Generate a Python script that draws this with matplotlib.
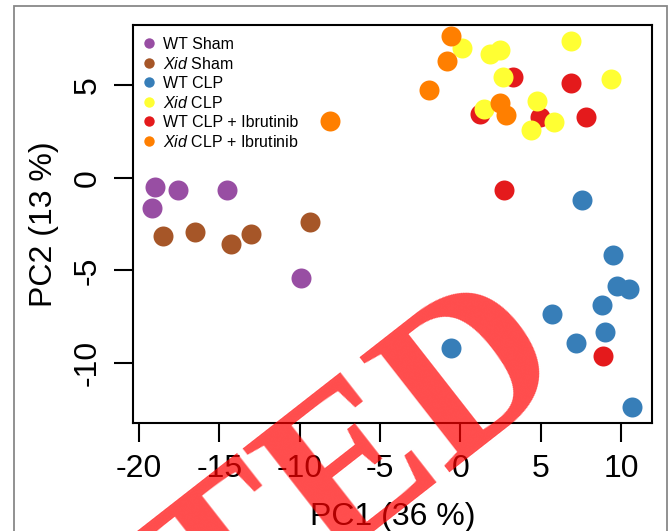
import matplotlib
matplotlib.use("Agg")
import matplotlib.pyplot as plt
from matplotlib.lines import Line2D
from matplotlib.patches import Rectangle

plt.rcParams["font.family"] = ["Liberation Sans", "DejaVu Sans"]
plt.rcParams["mathtext.fontset"] = "custom"
plt.rcParams["mathtext.it"] = "Liberation Sans:italic"
plt.rcParams["mathtext.rm"] = "Liberation Sans"
plt.rcParams["axes.unicode_minus"] = False

# PCA scores
wt_sham_x = [-19.0, -17.6, -14.5, -19.2, -9.9]
wt_sham_y = [-0.5, -0.65, -0.65, -1.65, -5.4]

xid_sham_x = [-18.5, -16.5, -14.3, -13.0, -9.35]
xid_sham_y = [-3.15, -2.95, -3.6, -3.05, -2.4]

wt_clp_x = [7.6, 9.5, 9.75, 10.5, 8.8, 5.7, 9.0, 7.2, -0.6, 10.7]
wt_clp_y = [-1.2, -4.2, -5.85, -6.0, -6.85, -7.35, -8.35, -8.9, -9.2, -12.35]

wt_ibr_x = [3.3, 6.9, 1.2, 4.95, 7.8, 2.75, 8.85]
wt_ibr_y = [5.45, 5.1, 3.45, 3.3, 3.25, -0.65, -9.6]

xid_clp_x = [0.1, 1.85, 2.45, 6.9, 2.65, 9.4, 1.45, 4.75, 5.8, 4.4]
xid_clp_y = [7.0, 6.7, 6.9, 7.4, 5.45, 5.3, 3.7, 4.15, 3.0, 2.55]

xid_ibr_x = [-0.6, -0.8, -1.95, 2.45, 2.85, -8.1]
xid_ibr_y = [7.65, 6.3, 4.75, 4.05, 3.4, 3.05]

x_ticks = [-20, -15, -10, -5, 0, 5, 10]
y_ticks = [-10, -5, 0, 5]

c_purple = "#984EA3"
c_brown = "#A65628"
c_blue = "#377EB8"
c_yellow = "#FFFF33"
c_red = "#E41A1C"
c_orange = "#FF7F00"

fig = plt.figure(figsize=(6.69, 5.31), dpi=100)
ax = fig.add_axes([133 / 669, 1 - 423 / 531, (652 - 133) / 669, (423 - 25) / 531])

ms = 14.4
# drawing order as in the original (yellow over red, orange on top)
groups = [
    (wt_sham_x, wt_sham_y, c_purple),
    (xid_sham_x, xid_sham_y, c_brown),
    (wt_clp_x, wt_clp_y, c_blue),
    (wt_ibr_x, wt_ibr_y, c_red),
    (xid_clp_x, xid_clp_y, c_yellow),
    (xid_ibr_x, xid_ibr_y, c_orange),
]
for gx, gy, col in groups:
    ax.plot(gx, gy, "o", color=col, markersize=ms, markeredgewidth=0, linestyle="none")

ax.set_xlim(-20.37, 11.93)
ax.set_ylim(-13.24, 8.24)
ax.set_xticks(x_ticks)
ax.set_yticks(y_ticks)
ax.set_yticklabels([str(t) for t in y_ticks], rotation=90, va="center")
ax.tick_params(direction="out", length=14, width=1.5, labelsize=23, pad=8)
for s in ax.spines.values():
    s.set_linewidth(1.5)

ax.set_xlabel("PC1 (36 %)", fontsize=23, labelpad=13)
ax.set_ylabel("PC2 (13 %)", fontsize=23, labelpad=10)

# legend
labels = [
    "WT Sham",
    r"$\mathit{Xid}$ Sham",
    "WT CLP",
    r"$\mathit{Xid}$ CLP",
    "WT CLP + Ibrutinib",
    r"$\mathit{Xid}$ CLP + Ibrutinib",
]
colors = [c_purple, c_brown, c_blue, c_yellow, c_red, c_orange]
handles = [Line2D([], [], marker="o", color=c, linestyle="none",
                  markersize=7.5, markeredgewidth=0) for c in colors]
ax.legend(handles, labels, loc="upper left", frameon=False, fontsize=11.5,
          handlelength=0.8, handletextpad=0.5, labelspacing=0.25,
          borderaxespad=0.3, borderpad=0.45, bbox_to_anchor=(-0.005, 1.0))

# outer frame of the panel
fig.add_artist(Rectangle((14 / 669, -0.1), (667 - 14) / 669, 1 - 6 / 531 + 0.1,
                         transform=fig.transFigure, fill=False,
                         edgecolor="#888888", linewidth=1.3))

# retraction stamp
fig.text(-10 / 669, 1 - 760 / 531, "RETRACTED", rotation=38, rotation_mode="anchor",
         ha="center", va="center", fontsize=160, family="Liberation Serif",
         weight="bold", color="red", alpha=0.7)

fig.savefig("out.png", dpi=100)
